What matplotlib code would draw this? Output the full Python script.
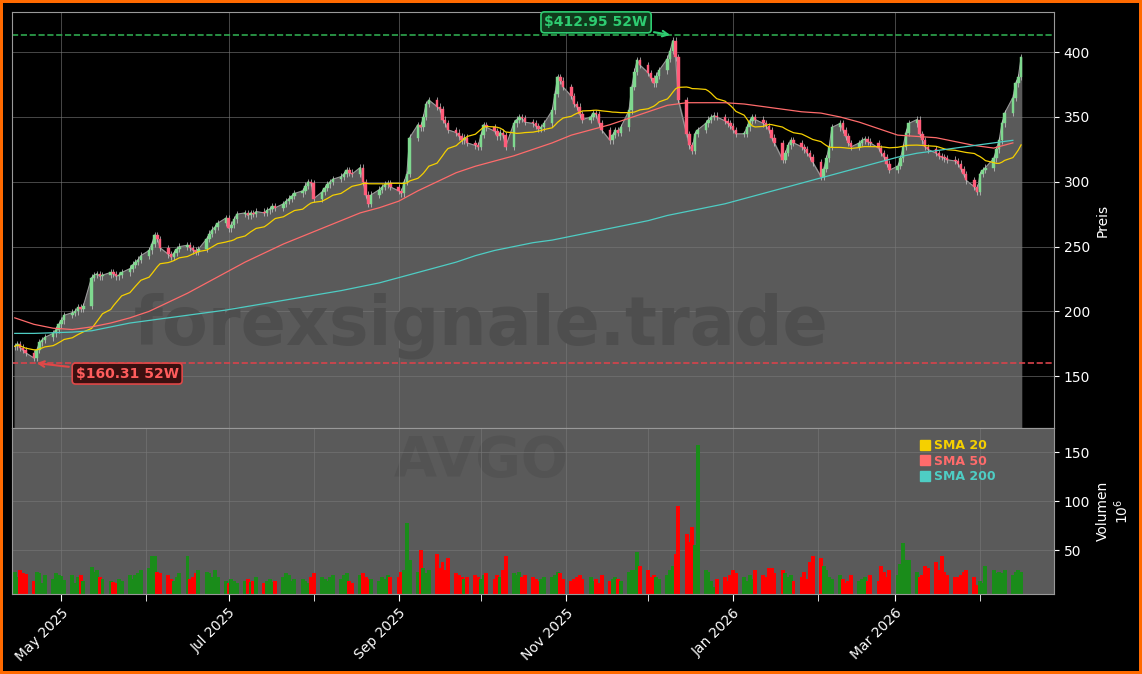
import numpy as np
import pandas as pd
import matplotlib.pyplot as plt
import matplotlib.dates as mdates
from matplotlib.lines import Line2D

# ── data ──────────────────────────────────────────────────────────────────────
closes_by_week = [
    [173, 175, 172, 170, 168], [164, 170, 176, 178, 180], [183, 186, 190, 193, 197],
    [199, 200, 203, 202, 204], [226, 228, 229, 227, 228], [230, 229, 227, 228, 230],
    [233, 236, 238, 240, 243], [247, 252, 259, 256, 249], [244, 242, 245, 248, 250],
    [251, 249, 247, 246, 248], [256, 260, 263, 265, 268], [272, 264, 267, 271, 275],
    [276, 274, 276, 275, 277], [276, 278, 279, 281, 280], [283, 285, 287, 289, 291],
    [293, 297, 300, 299, 287], [292, 295, 298, 300, 302], [304, 306, 309, 307, 306],
    [311, 300, 290, 283, 290], [294, 296, 298, 299, 296], [293, 291, 300, 306, 334],
    [344, 342, 350, 360, 363], [358, 356, 348, 345, 340], [338, 335, 332, 334, 330],
    [328, 327, 336, 344, 342], [339, 335, 338, 336, 327], [345, 348, 350, 349, 346],
    [345, 343, 341, 342, 345], [355, 368, 381, 378, 373], [366, 360, 358, 352, 348],
    [350, 353, 352, 345, 340], [332, 336, 340, 338, 342], [355, 373, 385, 394, 390],
    [384, 380, 376, 382, 386], [395, 401, 409, 396, 363], [337, 328, 324, 337, 340],
    [345, 348, 350, 351, 350], [347, 345, 343, 340, 337], [337, 342, 347, 350, 348],
    [345, 343, 340, 334, 330], [317, 322, 328, 332, 330], [327, 325, 322, 319, 315],
    [304, 310, 318, 327, 342], [345, 340, 335, 330, 327], [330, 332, 333, 331, 330],
    [326, 322, 319, 314, 309], [312, 318, 327, 338, 345], [348, 337, 332, 327, 325],
    [322, 320, 319, 318, 317], [316, 314, 310, 306, 301], [296, 292, 306, 309, 311],
    [318, 325, 332, 345, 353], [365, 376, 381, 396],
]
volume_by_week = [
    [28, 22, 30, 26, 25], [18, 28, 27, 16, 24], [20, 26, 24, 23, 19], [24, 16, 22, 24, 18],
    [33, 28, 30, 22, 20], [18, 17, 16, 20, 18], [24, 20, 24, 26, 30], [32, 44, 44, 28, 26],
    [24, 20, 18, 22, 26], [44, 20, 22, 26, 30], [28, 26, 22, 30, 22], [18, 16, 20, 18, 16],
    [18, 20, 17, 18, 22], [16, 18, 20, 17, 18], [22, 26, 24, 18, 20], [20, 18, 16, 22, 26],
    [22, 20, 18, 22, 24], [20, 24, 26, 18, 16], [24, 26, 22, 20, 20], [18, 22, 20, 24, 22],
    [22, 28, 30, 78, 40], [28, 50, 32, 26, 30], [46, 32, 38, 30, 42], [26, 24, 22, 20, 22],
    [24, 22, 20, 24, 26], [20, 24, 22, 30, 44], [26, 24, 28, 22, 24], [22, 20, 18, 20, 22],
    [22, 24, 28, 26, 20], [18, 20, 22, 24, 20], [22, 18, 20, 16, 24], [18, 20, 22, 20, 18],
    [28, 30, 30, 48, 34], [30, 22, 24, 22, 20], [24, 30, 34, 46, 95], [66, 58, 74, 55, 158],
    [30, 28, 18, 12, 20], [22, 18, 24, 30, 26], [22, 18, 24, 20, 30], [24, 22, 32, 32, 26],
    [30, 26, 22, 24, 18], [22, 28, 20, 38, 44], [42, 34, 30, 22, 20], [24, 20, 16, 18, 24],
    [18, 20, 22, 18, 24], [18, 34, 28, 22, 30], [24, 36, 57, 40, 40], [28, 22, 24, 34, 32],
    [38, 30, 44, 28, 24], [22, 22, 24, 28, 30], [22, 14, 18, 16, 34], [30, 26, 28, 26, 30],
    [24, 28, 30, 28],
]
# weekly readings of the longer moving averages (start of each week)
sma50_weekly = [195, 190, 187, 186, 188, 191, 195, 200, 207, 214, 222, 230, 238, 245, 252,
                258, 264, 270, 276, 280, 285, 293, 300, 307, 312, 316, 320, 325, 330, 336,
                340, 344, 349, 354, 359, 361, 361, 361, 360, 358, 356, 354, 353, 350, 346,
                341, 336, 335, 334, 331, 328, 326, 330]
sma200_weekly = [183, 183, 183.5, 184, 185, 188, 191, 193, 195, 197, 199, 201, 203.5, 206,
                 208.5, 211, 213.5, 216, 219, 222, 226, 230, 234, 238, 243, 247, 250, 253,
                 255, 258, 261, 264, 267, 270, 274, 277, 280, 283, 287, 291, 295, 299, 303,
                 307, 311, 315, 319, 322, 324, 326, 328, 330, 332]
high_52w = 412.95
low_52w = 160.31

# ── prepare ──────────────────────────────────────────────────────────────────
closes = np.array([c for w in closes_by_week for c in w], dtype=float)
volume = np.array([v for w in volume_by_week for v in w], dtype=float)
dates = pd.bdate_range('2025-04-14', periods=len(closes))
weeks = pd.date_range('2025-04-14', periods=len(sma50_weekly), freq='7D')
opens = np.r_[closes[0], closes[:-1]]
up = closes >= opens
sma20 = pd.Series(closes).rolling(20, min_periods=1).mean().values

UP_C, DN_C = '#7fd98f', '#ff5c7a'
BG = '#5a5a5a'

fig = plt.figure(figsize=(11.42, 6.74), dpi=100, facecolor='black',
                 edgecolor='#ff6a00', linewidth=4)
ax = fig.add_axes([12 / 1142, 1 - 428 / 674, 1042 / 1142, 416 / 674])
axv = fig.add_axes([12 / 1142, 1 - 594 / 674, 1042 / 1142, 166 / 674], sharex=ax)

for a in (ax, axv):
    a.set_facecolor('black')
    a.grid(True, color='#777777', linewidth=0.6, alpha=0.7)
    a.yaxis.tick_right()
    a.yaxis.set_label_position('right')
    a.tick_params(colors='white', labelsize=10)
    for s in a.spines.values():
        s.set_color('#999999')
axv.set_facecolor(BG)

# price panel
ax.fill_between(dates, closes, 110, color=BG, zorder=1)
ax.plot(dates, closes, color='#999999', linewidth=0.8, zorder=1.5)
for d, o, c, u in zip(dates, opens, closes, up):
    col = UP_C if u else DN_C
    lo, hi = min(o, c), max(o, c)
    ax.vlines(d, lo - 2.5, hi + 2.5, color='#cccccc', linewidth=0.5, zorder=2)
    ax.bar(d, max(hi - lo, 0.6), bottom=lo, width=0.9, color=col,
           edgecolor=col, linewidth=0.3, zorder=3)

ax.plot(dates, sma20, color='#f5d000', linewidth=0.9, zorder=4)
ax.plot(weeks, sma50_weekly, color='#ff6b6b', linewidth=0.9, zorder=4)
ax.plot(weeks, sma200_weekly, color='#4ecdc4', linewidth=0.9, zorder=4)

ax.axhline(high_52w, color='#2ea84f', linestyle='--', linewidth=1.2, zorder=2)
ax.axhline(low_52w, color='#d9434b', linestyle='--', linewidth=1.2, zorder=2)

i_hi = int(np.argmax(closes))
i_lo = int(np.argmin(closes))
ax.annotate(f'${high_52w:.2f} 52W', xy=(dates[i_hi], high_52w),
            xytext=(pd.Timestamp('2025-11-12'), 423), ha='center', va='center',
            color='#2ecc71', fontsize=10, fontweight='bold',
            bbox=dict(boxstyle='round,pad=0.25', fc='#103a1c', ec='#2ecc71', lw=1.2),
            arrowprops=dict(arrowstyle='->', color='#2ecc71', lw=1.5), zorder=6)
ax.annotate(f'${low_52w:.2f} 52W', xy=(dates[i_lo], low_52w),
            xytext=(pd.Timestamp('2025-05-25'), 152), ha='center', va='center',
            color='#ff5c5c', fontsize=10, fontweight='bold',
            bbox=dict(boxstyle='round,pad=0.25', fc='#3a1010', ec='#e04848', lw=1.2),
            arrowprops=dict(arrowstyle='->', color='#e04848', lw=1.5), zorder=6)

ax.text(0.45, 0.245, 'forexsignale.trade', transform=ax.transAxes, ha='center',
        va='center', fontsize=48, fontweight='bold', color='#4e4e4e', zorder=1.6)
axv.text(0.45, 0.8, 'AVGO', transform=axv.transAxes, ha='center', va='center',
         fontsize=40, fontweight='bold', color='#535353', zorder=0.5)

ax.set_ylim(110, 431)
ax.set_yticks([150, 200, 250, 300, 350, 400])
ax.set_ylabel('Preis', color='white', fontsize=10)
ax.tick_params(axis='x', labelbottom=False, length=0)

# volume panel
vol_cols = np.where(up, '#1a8c1a', '#ff0000')
axv.bar(dates, volume, width=1.45, color=vol_cols, zorder=2)
axv.set_ylim(5, 175)
axv.set_yticks([50, 100, 150])
axv.set_ylabel('Volumen\n$10^6$', color='white', fontsize=10)

axv.set_xlim(pd.Timestamp('2025-04-13'), pd.Timestamp('2026-04-28'))
axv.xaxis.set_major_locator(mdates.MonthLocator(bymonth=[1, 3, 5, 7, 9, 11]))
axv.xaxis.set_minor_locator(mdates.MonthLocator())
axv.xaxis.set_major_formatter(mdates.DateFormatter('%b %Y'))
axv.tick_params(axis='x', which='both', length=5, colors='white')
axv.grid(True, which='minor', axis='x', color='#777777', linewidth=0.6, alpha=0.7)
for lbl in axv.get_xticklabels():
    lbl.set_rotation(45)
    lbl.set_ha('right')
    lbl.set_rotation_mode('anchor')

handles = [Line2D([], [], marker='s', linestyle='None', color=c, markersize=7)
           for c in ('#f5d000', '#ff6b6b', '#4ecdc4')]
leg = axv.legend(handles, ['SMA 20', 'SMA 50', 'SMA 200'], loc='upper right',
                 bbox_to_anchor=(0.955, 1.0), frameon=False, handlelength=0.6,
                 handletextpad=0.4, labelspacing=0.2,
                 prop={'weight': 'bold', 'size': 9})
for t, c in zip(leg.get_texts(), ('#f5d000', '#ff6b6b', '#4ecdc4')):
    t.set_color(c)

fig.savefig('out.png', dpi=100, facecolor='black', edgecolor='#ff6a00')
